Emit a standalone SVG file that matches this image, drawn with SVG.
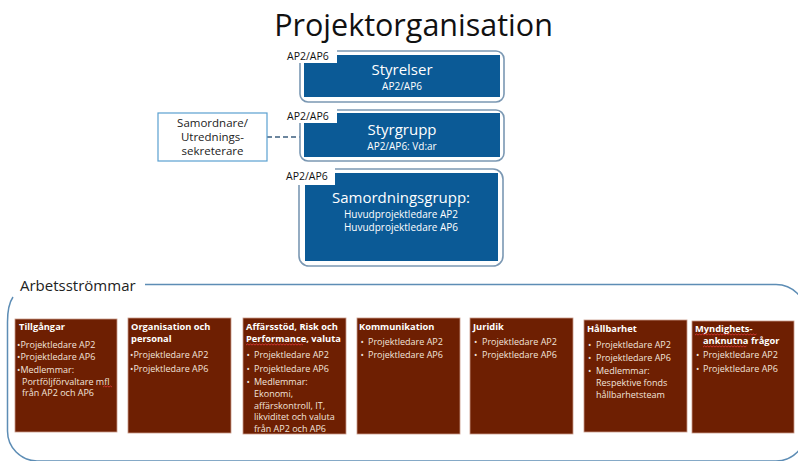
<svg xmlns="http://www.w3.org/2000/svg" width="798" height="461" viewBox="0 0 798 461">
<style>
text{font-family:"Open Sans","Noto Sans","DejaVu Sans",sans-serif}
.title{font-size:30.5px;fill:#111}
.tag{font-size:10.5px;fill:#111}
.outline{fill:none;stroke:#7b98b3;stroke-width:1.6}
.blue{fill:#0b5a96}
.bh{font-size:15px;fill:#fff;text-anchor:middle}
.bs{font-size:10px;fill:#fff;text-anchor:middle}
.side{fill:#fff;stroke:#5aa0d0;stroke-width:1.2}
.st{font-size:11.5px;fill:#222;text-anchor:middle}
.red{fill:#6e1f02;stroke:#c89a88;stroke-width:0.8}
.rh{font-size:9.3px;font-weight:bold;fill:#fff}
.rt{font-size:9px;fill:#f2e4dc}
.sq{stroke:#e23a3a;stroke-width:0.8;fill:none}
</style>
<rect width="798" height="461" fill="#fff"/>
<text class="title" x="413.5" y="36" text-anchor="middle">Projektorganisation</text>

<g id="connectors">
<line x1="267" y1="137" x2="300" y2="137" stroke="#3d5f7f" stroke-width="1.5" stroke-dasharray="5,3"/>
</g>

<g id="styrelser">
<rect class="outline" x="300" y="51" width="204" height="51" rx="8"/>
<rect class="blue" x="304" y="55" width="196" height="42"/>
<rect x="283" y="47" width="54" height="16" fill="#fff"/>
<text class="tag" x="287" y="60">AP2/AP6</text>
<text class="bh" x="402" y="74.5" font-size="14.5">Styrelser</text>
<text class="bs" x="402" y="89.5">AP2/AP6</text>
</g>

<g id="styrgrupp">
<rect class="outline" x="300" y="110" width="204" height="51" rx="8"/>
<rect class="blue" x="304" y="113" width="196" height="44"/>
<rect x="283" y="107" width="54" height="16" fill="#fff"/>
<text class="tag" x="287" y="120">AP2/AP6</text>
<text class="bh" x="402" y="134.5">Styrgrupp</text>
<text class="bs" x="402" y="149.5">AP2/AP6: Vd:ar</text>
</g>

<g id="samordnare">
<rect class="side" x="158" y="113" width="109" height="48"/>
<text class="st" x="212.5" y="127">Samordnare/</text>
<text class="st" x="212.5" y="141">Utrednings-</text>
<text class="st" x="212.5" y="155">sekreterare</text>
</g>

<g id="samordningsgrupp">
<rect class="outline" x="299" y="169" width="204" height="97" rx="10"/>
<rect class="blue" x="305" y="173" width="193" height="88"/>
<rect x="281" y="166" width="54" height="19" fill="#fff"/>
<text class="tag" x="286" y="180">AP2/AP6</text>
<text class="bh" x="401" y="203">Samordningsgrupp:</text>
<text class="bs" x="401" y="218">Huvudprojektledare AP2</text>
<text class="bs" x="401" y="231">Huvudprojektledare AP6</text>
</g>

<g id="arbetsstrommar">
<path d="M145,284.5 H776 A30,30 0 0 1 806,314.5 V431 A30,30 0 0 1 776,461 H37 A30,30 0 0 1 7.5,431 V322 Q7.5,305 13,297" fill="none" stroke="#5d8db5" stroke-width="1.5"/>
<text x="20" y="291" font-size="15" fill="#222">Arbetsströmmar</text>
</g>

<g id="tillgangar">
<rect class="red" x="15" y="319" width="102" height="113"/>
<text class="rh" x="19" y="330">Tillgångar</text>
<text class="rt" x="17" y="348">•Projektledare AP2</text>
<text class="rt" x="17" y="360">•Projektledare AP6</text>
<text class="rt" x="17" y="373">•Medlemmar:</text>
<text class="rt" x="22" y="384.5">Portföljförvaltare mfl</text>
<text class="rt" x="22" y="396">från AP2 och AP6</text>
<path class="sq" d="M103,387 l1.5,-1 l1.5,1 l1.5,-1 l1.5,1 l1.5,-1 l1.5,1"/>
</g>

<g id="organisation">
<rect class="red" x="128" y="318" width="103" height="115"/>
<text class="rh" x="131" y="330">Organisation och</text>
<text class="rh" x="131" y="342">personal</text>
<text class="rt" x="130" y="358">•Projektledare AP2</text>
<text class="rt" x="130" y="372">•Projektledare AP6</text>
</g>

<g id="affarsstod">
<rect class="red" x="243" y="318" width="103" height="116"/>
<text class="rh" x="246" y="330">Affärsstöd, Risk och</text>
<text class="rh" x="246" y="342">Performance, valuta</text>
<path class="sq" d="M246,345 l1.5,-1 l1.5,1 l1.5,-1 l1.5,1 l1.5,-1 l1.5,1 l1.5,-1 l1.5,1 l1.5,-1 l1.5,1 l1.5,-1 l1.5,1 l1.5,-1 l1.5,1 l1.5,-1 l1.5,1 l1.5,-1 l1.5,1 l1.5,-1 l1.5,1 l1.5,-1 l1.5,1 l1.5,-1 l1.5,1 l1.5,-1 l1.5,1 l1.5,-1 l1.5,1 l1.5,-1 l1.5,1 l1.5,-1 l1.5,1 l1.5,-1 l1.5,1 l1.5,-1 l1.5,1 l1.5,-1 l1.5,1"/>
<text class="rt" x="246.5" y="358">•</text><text class="rt" x="254" y="358">Projektledare AP2</text>
<text class="rt" x="246.5" y="372">•</text><text class="rt" x="254" y="372">Projektledare AP6</text>
<text class="rt" x="246.5" y="385">•</text><text class="rt" x="254" y="385">Medlemmar:</text>
<text class="rt" x="254" y="397">Ekonomi,</text>
<text class="rt" x="254" y="408.5">affärskontroll, IT,</text>
<text class="rt" x="254" y="420">likviditet och valuta</text>
<text class="rt" x="254" y="431.5">från AP2 och AP6</text>
</g>

<g id="kommunikation">
<rect class="red" x="357" y="318" width="103" height="116"/>
<text class="rh" x="359" y="330">Kommunikation</text>
<text class="rt" x="360.5" y="345">•</text><text class="rt" x="368" y="345">Projektledare AP2</text>
<text class="rt" x="360.5" y="358">•</text><text class="rt" x="368" y="358">Projektledare AP6</text>
</g>

<g id="juridik">
<rect class="red" x="470" y="318" width="103" height="116"/>
<text class="rh" x="473" y="330">Juridik</text>
<text class="rt" x="474" y="345">•</text><text class="rt" x="482" y="345">Projektledare AP2</text>
<text class="rt" x="474" y="358">•</text><text class="rt" x="482" y="358">Projektledare AP6</text>
</g>

<g id="hallbarhet">
<rect class="red" x="584" y="320" width="103" height="112"/>
<text class="rh" x="587" y="332">Hållbarhet</text>
<text class="rt" x="588" y="348">•</text><text class="rt" x="596" y="348">Projektledare AP2</text>
<text class="rt" x="588" y="361">•</text><text class="rt" x="596" y="361">Projektledare AP6</text>
<text class="rt" x="588" y="374">•</text><text class="rt" x="596" y="374">Medlemmar:</text>
<text class="rt" x="596" y="386">Respektive fonds</text>
<text class="rt" x="596" y="398">hållbarhetsteam</text>
</g>

<g id="myndighets">
<rect class="red" x="692" y="321" width="102" height="112"/>
<text class="rh" x="695" y="332">Myndighets-</text>
<text class="rh" x="703" y="344">anknutna frågor</text>
<path class="sq" d="M695,335 l1.5,-1 l1.5,1 l1.5,-1 l1.5,1 l1.5,-1 l1.5,1 l1.5,-1 l1.5,1 l1.5,-1 l1.5,1 l1.5,-1 l1.5,1 l1.5,-1 l1.5,1 l1.5,-1 l1.5,1 l1.5,-1 l1.5,1 l1.5,-1 l1.5,1 l1.5,-1 l1.5,1 l1.5,-1 l1.5,1 l1.5,-1 l1.5,1 l1.5,-1 l1.5,1 l1.5,-1 l1.5,1 l1.5,-1 l1.5,1 l1.5,-1 l1.5,1 l1.5,-1 l1.5,1 l1.5,-1 l1.5,1 l1.5,-1 l1.5,1 l1.5,-1"/>
<path class="sq" d="M703,347 l1.5,-1 l1.5,1 l1.5,-1 l1.5,1 l1.5,-1 l1.5,1 l1.5,-1 l1.5,1 l1.5,-1 l1.5,1 l1.5,-1 l1.5,1 l1.5,-1 l1.5,1 l1.5,-1 l1.5,1 l1.5,-1 l1.5,1 l1.5,-1 l1.5,1 l1.5,-1 l1.5,1 l1.5,-1 l1.5,1 l1.5,-1 l1.5,1 l1.5,-1 l1.5,1 l1.5,-1"/>
<text class="rt" x="696" y="358">•</text><text class="rt" x="703" y="358">Projektledare AP2</text>
<text class="rt" x="696" y="372">•</text><text class="rt" x="703" y="372">Projektledare AP6</text>
</g>
</svg>
